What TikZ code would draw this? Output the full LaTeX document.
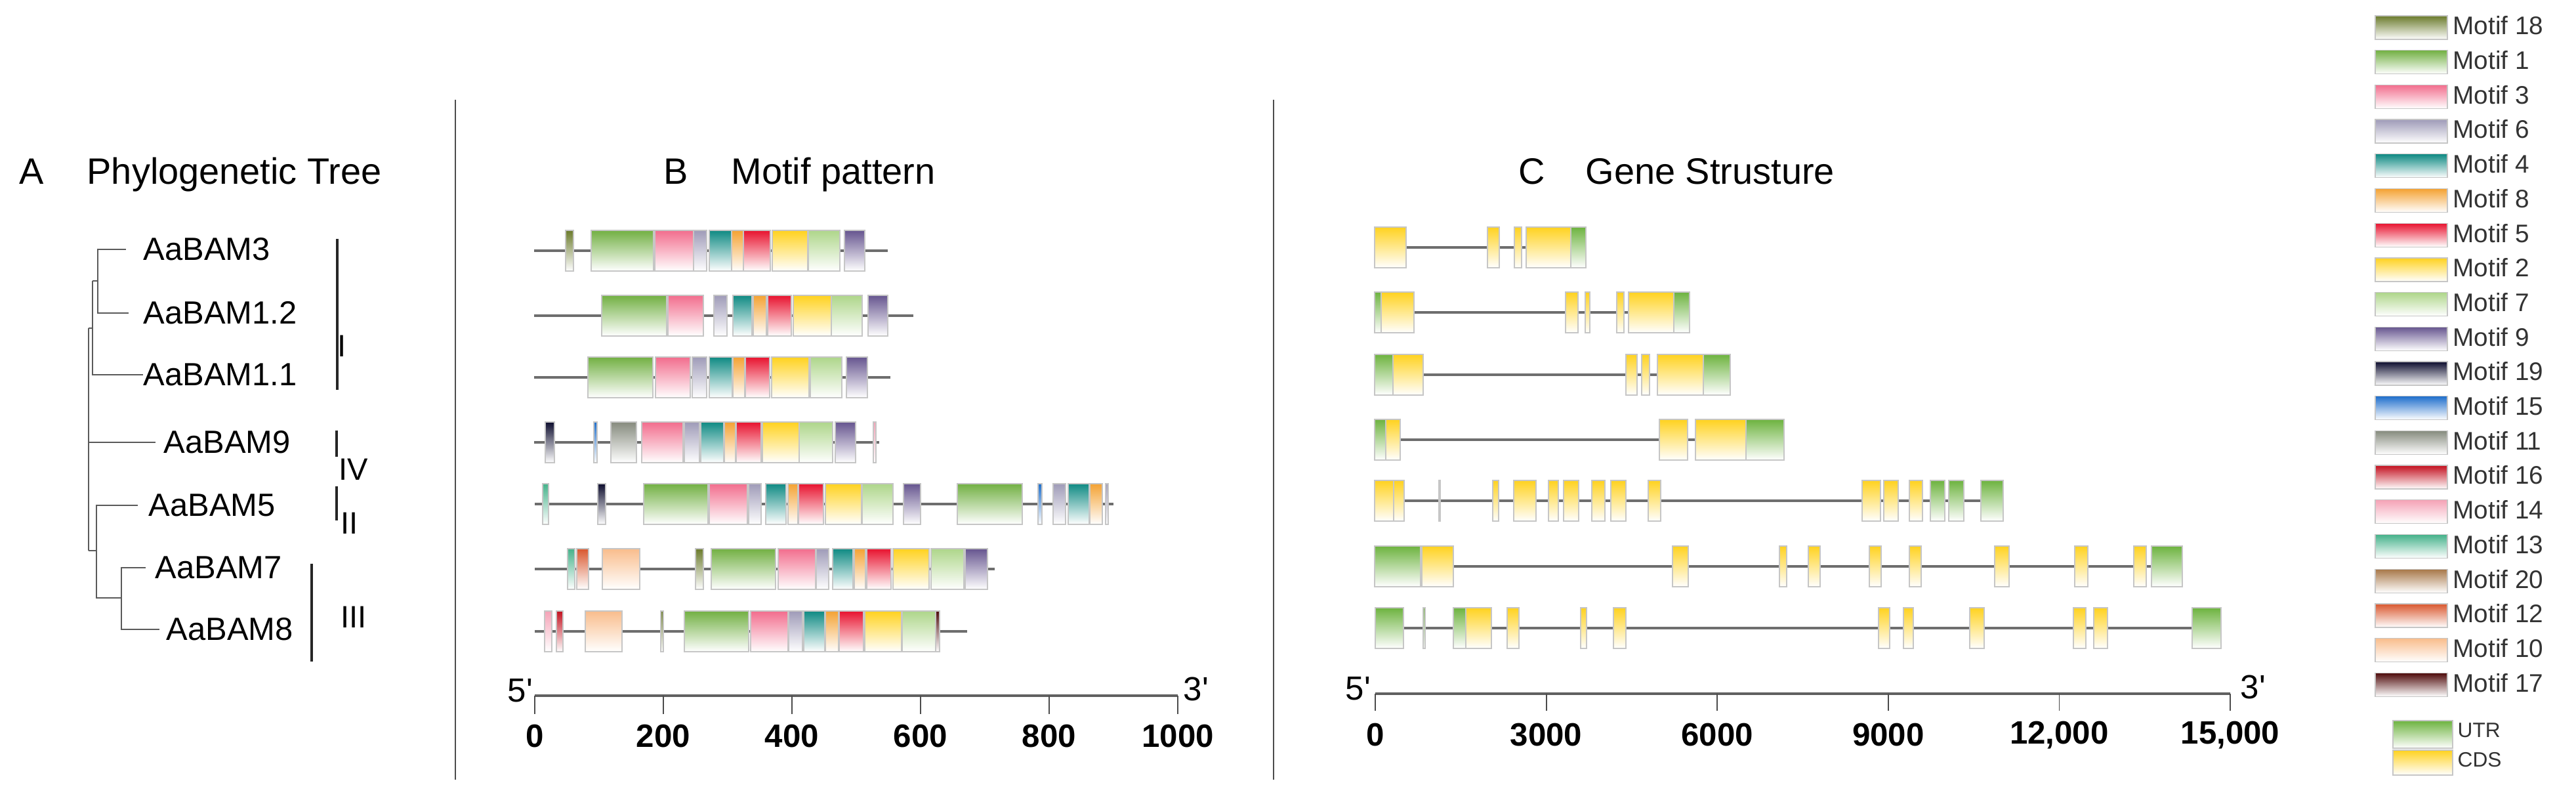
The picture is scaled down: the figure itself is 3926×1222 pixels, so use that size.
\documentclass[tikz,border=0pt]{standalone}
\usepackage{fontspec}
\setmainfont{Liberation Sans}[Ligatures=TeXOff]
\definecolor{m18}{HTML}{6B7B2C}
\definecolor{m1}{HTML}{72B043}
\definecolor{m3}{HTML}{F26D8D}
\definecolor{m6}{HTML}{9F9BB8}
\definecolor{m4}{HTML}{0F8A83}
\definecolor{m8}{HTML}{F4A233}
\definecolor{m5}{HTML}{E8132F}
\definecolor{m2}{HTML}{FFD21F}
\definecolor{m7}{HTML}{AED68A}
\definecolor{m9}{HTML}{66558F}
\definecolor{m19}{HTML}{0D0D2E}
\definecolor{m15}{HTML}{1F6FCC}
\definecolor{m11}{HTML}{868B7E}
\definecolor{m16}{HTML}{C3111F}
\definecolor{m14}{HTML}{F5A3B7}
\definecolor{m13}{HTML}{45B28A}
\definecolor{m20}{HTML}{A77748}
\definecolor{m12}{HTML}{D9572E}
\definecolor{m10}{HTML}{F9BD8C}
\definecolor{m17}{HTML}{4E0A0A}
\definecolor{gU}{HTML}{6DB33F}
\definecolor{gC}{HTML}{FFD21F}
\definecolor{linegray}{HTML}{6E6E6E}
\definecolor{treegray}{HTML}{5A5A5A}
\definecolor{legtxt}{HTML}{333333}
\begin{document}
\begin{tikzpicture}[x=0.01cm,y=-0.01cm,
  mbox/.style={bottom color=white, draw=gray!45, line width=0.35pt},
  protline/.style={draw=linegray, line width=1.1pt},
  geneline/.style={draw=linegray, line width=0.9pt},
  tree/.style={draw=treegray, line width=0.55pt},
  grpbar/.style={draw=black!85, line width=1.1pt},
  divider/.style={draw=black!70, line width=0.8pt},
  title/.style={anchor=base west, inner sep=0pt, font=\fontsize{15.9}{18}\selectfont},
  leaf/.style={anchor=west, inner sep=0pt, font=\fontsize{13.9}{16}\selectfont},
  grp/.style={anchor=west, inner sep=0pt, font=\fontsize{13.4}{16}\selectfont},
  scaleline/.style={draw=gray!75!black, line width=1.4pt},
  tickline/.style={draw=black!70, line width=0.5pt},
  scalelab/.style={inner sep=0pt, font=\bfseries\fontsize{14}{16}\selectfont},
  endlab/.style={inner sep=0pt, font=\fontsize{14.5}{16}\selectfont},
  legtext/.style={anchor=west, inner sep=0pt, text=legtxt, font=\fontsize{11}{13}\selectfont},
  legsmall/.style={anchor=west, inner sep=0pt, text=legtxt, font=\fontsize{9}{11}\selectfont}
]
\useasboundingbox (0,0) rectangle (3926,1222);
\fill[white] (0,0) rectangle (3926,1222);

% dividers
\coordinate (d1t) at (694,152); \coordinate (d1b) at (694,1188);
\coordinate (d2t) at (1941,152); \coordinate (d2b) at (1941,1188);
\draw[divider] (d1t) -- (d1b);
\draw[divider] (d2t) -- (d2b);

% titles
\node[title] (tA) at (29,281) {A};
\node[title] (tAt) at (132,281) {Phylogenetic Tree};
\node[title] (tB) at (1011,281) {B};
\node[title] (tBt) at (1114,281) {Motif pattern};
\node[title] (tC) at (2314,281) {C};
\node[title] (tCt) at (2416,281) {Gene Strusture};

% ---------- tree ----------
\node[leaf] (l3)  at (218,380) {AaBAM3};
\node[leaf] (l12) at (218,477) {AaBAM1.2};
\node[leaf] (l11) at (218,571) {AaBAM1.1};
\node[leaf] (l9)  at (249,674) {AaBAM9};
\node[leaf] (l5)  at (226,770) {AaBAM5};
\node[leaf] (l7)  at (236,865) {AaBAM7};
\node[leaf] (l8)  at (253,959) {AaBAM8};
\coordinate (e3) at (192,380);
\coordinate (e12) at (196,477);
\coordinate (e9) at (237,674);
\coordinate (e5) at (210,770);
\coordinate (e7) at (222,865);
\coordinate (e8) at (243,959);
\draw[tree] (e3) -- (149,380) -- (149,477) -- (e12);
\draw[tree] (149,428) -- (141,428);
\draw[tree] (141,428) -- (141,571) -- (l11.west);
\draw[tree] (141,500) -- (135,500);
\draw[tree] (135,500) -- (135,839);
\draw[tree] (135,674) -- (e9);
\draw[tree] (135,839) -- (147,839);
\draw[tree] (e5) -- (147,770) -- (147,911) -- (185,911);
\draw[tree] (e7) -- (185,865) -- (185,959) -- (e8);

% groups
\draw[grpbar] (514,364) -- (514,594);
\node[grp] (gI) at (514,527) {I};
\draw[grpbar] (513,656) -- (513,696);
\node[grp] (gIV) at (516,715) {IV};
\draw[grpbar] (513,741) -- (513,793);
\node[grp] (gII) at (519,797) {II};
\draw[grpbar] (475,859) -- (475,1008);
\node[grp] (gIII) at (519,940) {III};

% ---------- motif pattern ----------
\foreach \yy/\xs/\xe in {382/814/1353, 481/814/1392, 575/814/1357, 674/814/1340, 768/815/1697, 867/815/1516, 962/815/1474}
  {\draw[protline] (\xs,\yy) -- (\xe,\yy);}
\foreach \yy/\xa/\xb/\colr in {
 382/862/874/m18, 382/901/996/m1, 382/998/1057/m3, 382/1057/1077/m6, 382/1081/1115/m4, 382/1115/1133/m8, 382/1133/1174/m5, 382/1177/1231/m2, 382/1232/1280/m7, 382/1287/1318/m9,
 481/917/1016/m1, 481/1018/1072/m3, 481/1088/1108/m6, 481/1117/1146/m4, 481/1148/1168/m8, 481/1170/1206/m5, 481/1209/1267/m2, 481/1267/1314/m7, 481/1323/1353/m9,
 575/896/995/m1, 575/999/1052/m3, 575/1055/1077/m6, 575/1081/1116/m4, 575/1117/1135/m8, 575/1136/1173/m5, 575/1176/1233/m2, 575/1235/1283/m7, 575/1290/1322/m9,
 674/831/845/m19, 674/905/910/m15, 674/931/970/m11, 674/978/1041/m3, 674/1043/1066/m6, 674/1068/1103/m4, 674/1104/1121/m8, 674/1122/1160/m5, 674/1162/1218/m2, 674/1218/1269/m7, 674/1273/1304/m9, 674/1331/1335/m14,
 768/827/836/m13, 768/911/923/m19, 768/981/1079/m1, 768/1081/1139/m3, 768/1141/1160/m6, 768/1167/1198/m4, 768/1201/1216/m8, 768/1217/1255/m5, 768/1258/1313/m2, 768/1314/1361/m7, 768/1377/1403/m9, 768/1459/1558/m1, 768/1582/1588/m15, 768/1605/1624/m6, 768/1628/1660/m4, 768/1661/1680/m8, 768/1685/1689/m6,
 867/865/876/m13, 867/879/897/m12, 867/918/975/m10, 867/1060/1072/m18, 867/1084/1182/m1, 867/1186/1243/m3, 867/1244/1263/m6, 867/1269/1300/m4, 867/1302/1319/m8, 867/1321/1358/m5, 867/1361/1416/m2, 867/1419/1469/m7, 867/1471/1505/m9,
 962/830/841/m14, 962/848/858/m16, 962/892/948/m10, 962/1007/1011/m18, 962/1043/1141/m1, 962/1144/1201/m3, 962/1202/1223/m6, 962/1225/1257/m4, 962/1258/1278/m8, 962/1279/1316/m5, 962/1318/1374/m2, 962/1375/1426/m7, 962/1426/1432/m17}
  {\shade[mbox, top color=\colr] (\xa,\yy-31) rectangle (\xb,\yy+31);}

% scale B
\coordinate (sB0) at (815,1060); \coordinate (sB1) at (1795,1060);
\draw[scaleline] (sB0) -- (sB1);
\foreach \v [count=\i from 0] in {0,200,400,600,800,1000}{
  \draw[tickline] (815+196*\i,1060) -- (815+196*\i,1088);
  \node[scalelab] (sBl\i) at (815+196*\i,1122) {\v};
}
\node[endlab] (sB5) at (793,1052) {5'};
\node[endlab] (sB3) at (1823,1050) {3'};

% ---------- gene structure ----------
\foreach \yy/\xe in {377/2417, 476/2575, 571/2637, 670/2719, 763/3053, 863/3326, 957/3385}
  {\draw[geneline] (2095,\yy) -- (\xe,\yy);}
\foreach \yy/\xa/\xb/\colr in {
 377/2095/2143/gC, 377/2267/2285/gC, 377/2308/2319/gC, 377/2326/2394/gC, 377/2394/2417/gU,
 476/2095/2105/gU, 476/2105/2155/gC, 476/2386/2405/gC, 476/2416/2423/gC, 476/2464/2475/gC, 476/2482/2551/gC, 476/2551/2575/gU,
 571/2095/2123/gU, 571/2123/2169/gC, 571/2478/2495/gC, 571/2502/2514/gC, 571/2526/2596/gC, 571/2596/2637/gU,
 670/2095/2112/gU, 670/2112/2134/gC, 670/2529/2572/gC, 670/2584/2661/gC, 670/2661/2719/gU,
 763/2095/2124/gC, 763/2124/2140/gC, 763/2193/2195/gC, 763/2275/2284/gC, 763/2307/2341/gC, 763/2360/2375/gC, 763/2383/2406/gC, 763/2426/2446/gC, 763/2455/2478/gC, 763/2512/2531/gC, 763/2838/2866/gC, 763/2871/2893/gC, 763/2910/2930/gC, 763/2942/2964/gU, 763/2970/2993/gU, 763/3019/3053/gU,
 863/2095/2165/gU, 863/2167/2215/gC, 863/2549/2573/gC, 863/2712/2723/gC, 863/2756/2774/gC, 863/2849/2867/gC, 863/2910/2928/gC, 863/3040/3062/gC, 863/3162/3182/gC, 863/3252/3271/gC, 863/3279/3326/gU,
 957/2096/2139/gU, 957/2169/2172/gU, 957/2215/2234/gU, 957/2234/2273/gC, 957/2297/2315/gC, 957/2409/2418/gC, 957/2459/2478/gC, 957/2863/2880/gC, 957/2901/2916/gC, 957/3002/3024/gC, 957/3160/3179/gC, 957/3191/3212/gC, 957/3341/3385/gU}
  {\shade[mbox, top color=\colr] (\xa,\yy-31) rectangle (\xb,\yy+31);}

% scale C
\coordinate (sC0) at (2096,1057); \coordinate (sC1) at (3399,1057);
\draw[scaleline] (sC0) -- (sC1);
\foreach \v [count=\i from 0] in {0,3000,6000,9000,{12,000},{15,000}}{
  \draw[tickline] (2096+260.6*\i,1057) -- (2096+260.6*\i,1083);
  \node[scalelab] (sCl\i) at (2096+260.6*\i,1120) {\v};
}
\node[endlab] (sC5) at (2070,1049) {5'};
\node[endlab] (sC3) at (3434,1047) {3'};

% ---------- legend ----------
\foreach \num/\colr [count=\i from 0] in {18/m18, 1/m1, 3/m3, 6/m6, 4/m4, 8/m8, 5/m5, 2/m2, 7/m7, 9/m9, 19/m19, 15/m15, 11/m11, 16/m16, 14/m14, 13/m13, 20/m20, 12/m12, 10/m10, 17/m17}{
  \pgfmathsetmacro{\ty}{24+52.7*\i}
  \shade[mbox, top color=\colr] (3620,\ty) rectangle (3730,\ty+36);
  \node[legtext] (leg\num) at (3738,\ty+15) {Motif \num};
}
\shade[mbox, top color=gU] (3647,1098) rectangle (3738,1140);
\node[legsmall] (legUTR) at (3745,1113) {UTR};
\shade[mbox, top color=gC] (3647,1143) rectangle (3738,1181);
\node[legsmall] (legCDS) at (3745,1158) {CDS};
\end{tikzpicture}
\end{document}
